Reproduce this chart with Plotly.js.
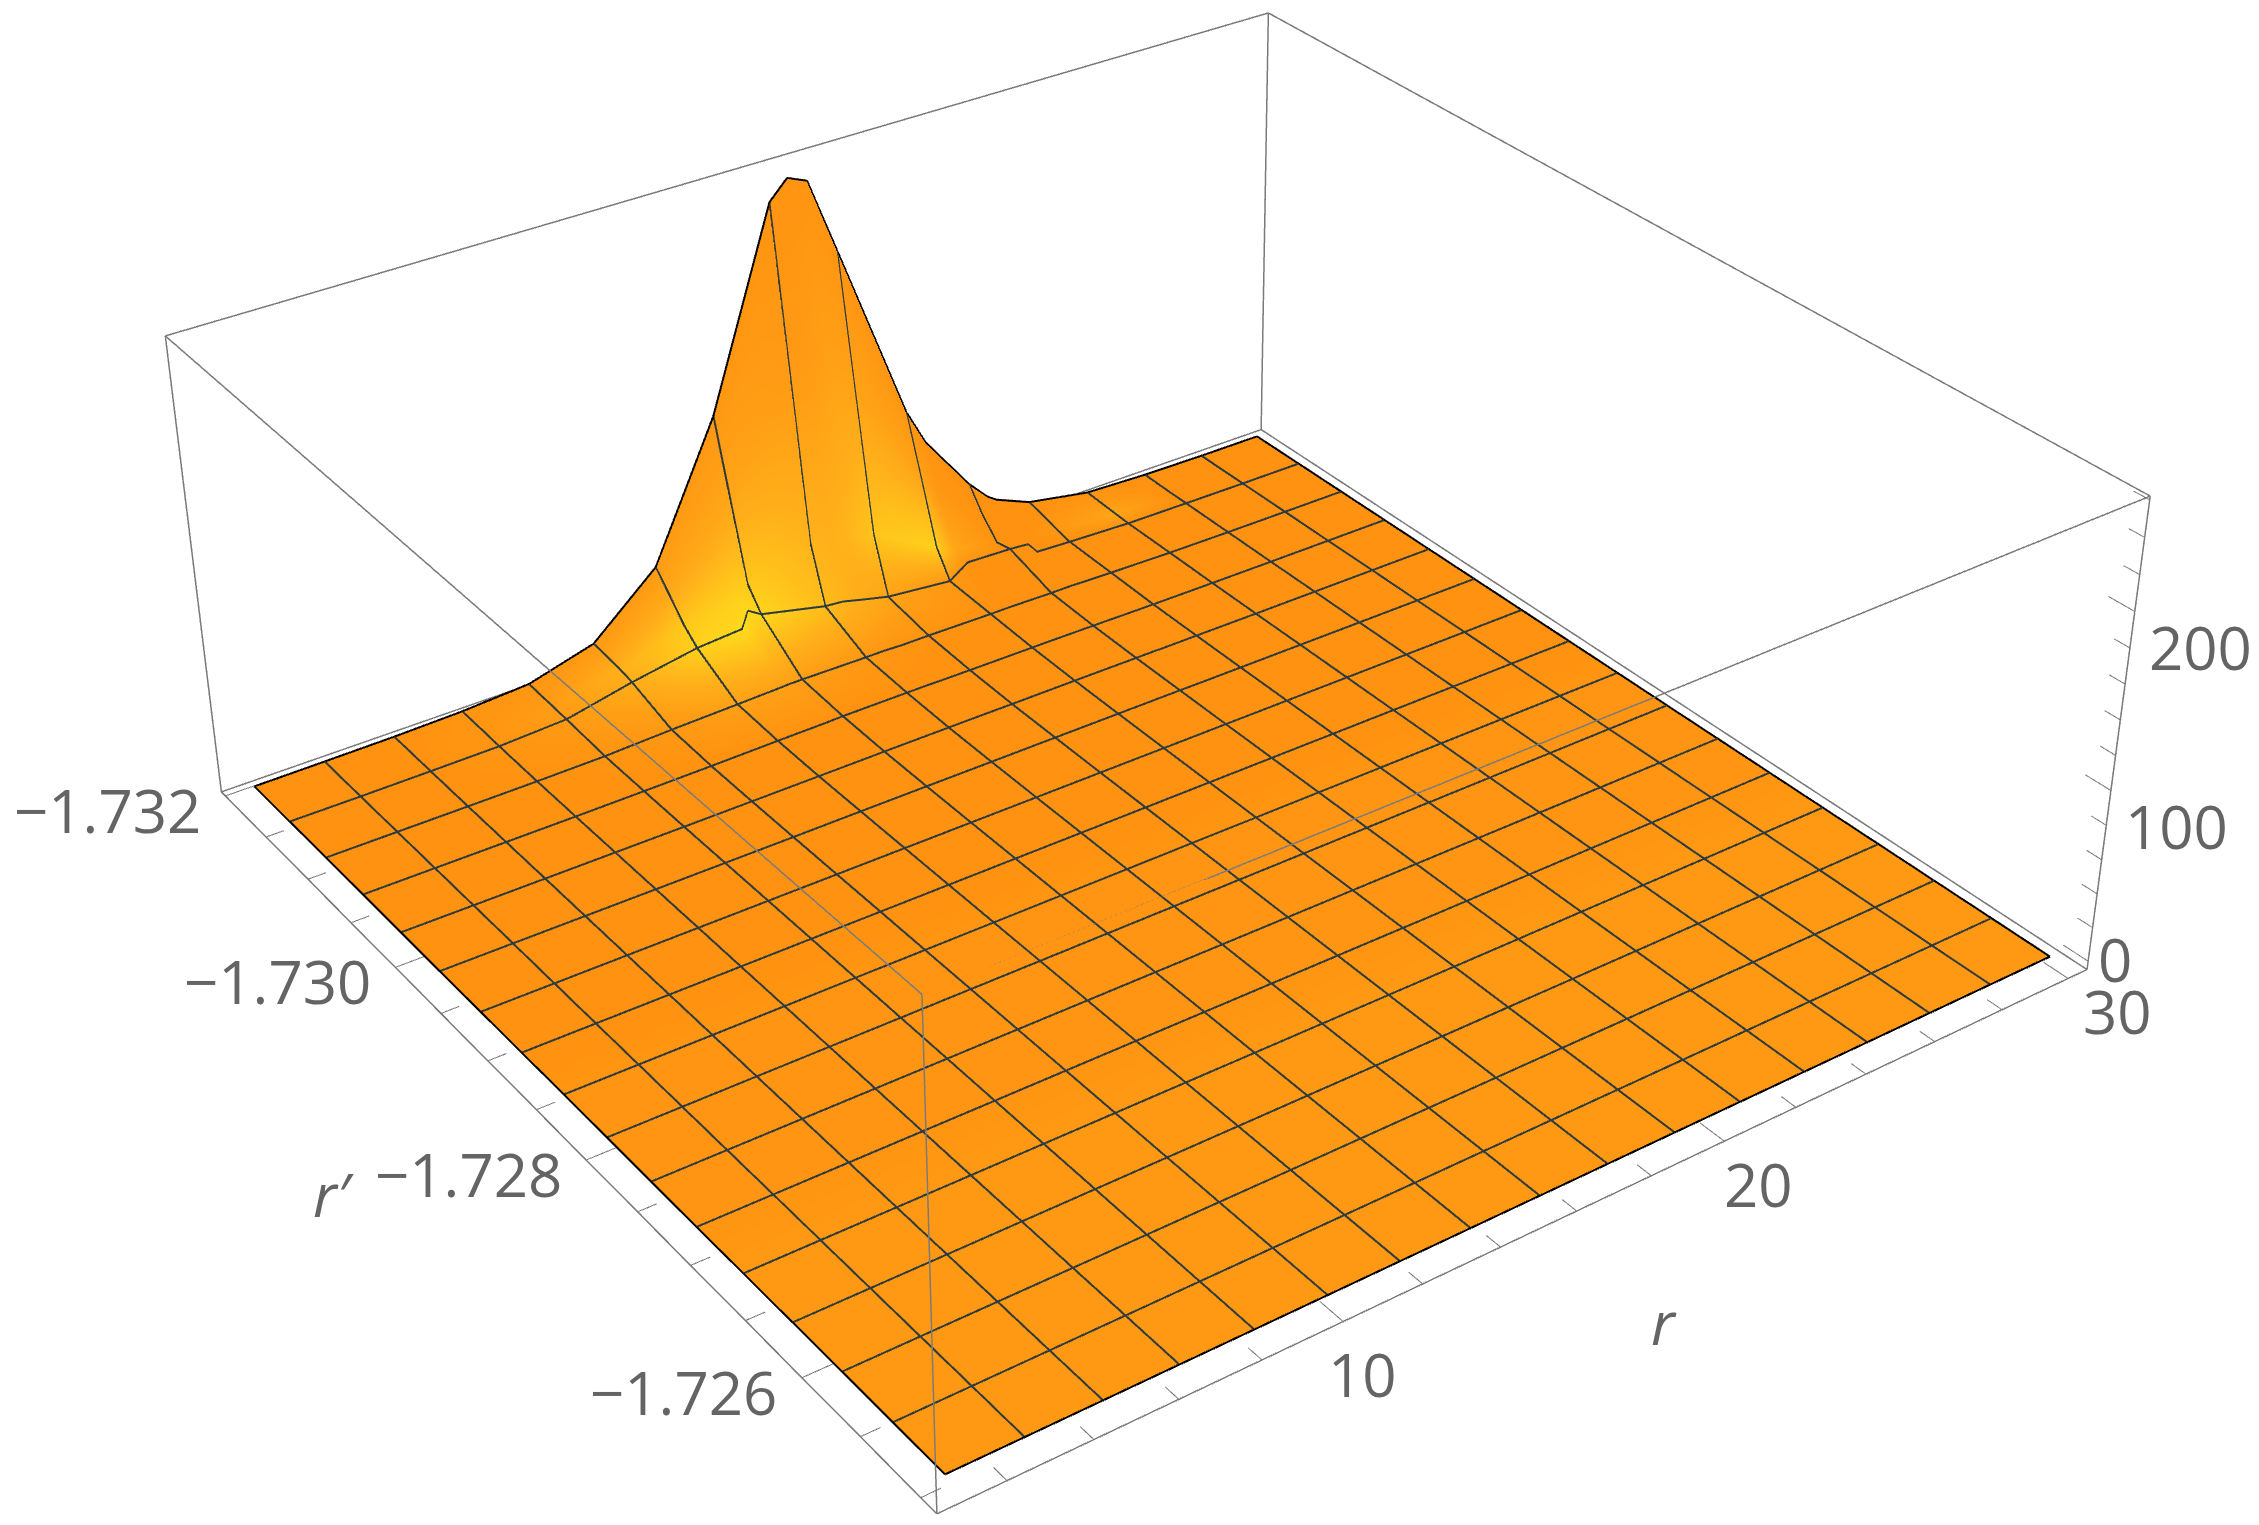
<!DOCTYPE html>
<html><head><meta charset="utf-8">
<script src="https://cdn.plot.ly/plotly-3.0.1.min.js"></script>
<style>html,body{margin:0;padding:0;background:#fff;width:2259px;height:1525px;overflow:hidden}
#wrap{position:absolute;left:0;top:0;width:2259px;height:1525px;overflow:hidden}
#g{position:absolute;left:-1697px;top:-1253px;width:5648px;height:3812px}</style>
</head><body><div id="wrap"><div id="g"></div></div>
<script>
const rValues=[1,2.81,4.63,6.44,8.25,10.06,11.88,13.15,13.33,13.69,15.5,16.01,16.55,17.31,19.13,19.67,20.94,21.48,21.75,22.75,24.56,26.38,28.19,30];
const rPrimeValues=[-1.73191,-1.73177,-1.73162,-1.73148,-1.73105,-1.73062,-1.73019,-1.72976,-1.72932,-1.72889,-1.72846,-1.72803,-1.7276,-1.72717,-1.72674,-1.7263,-1.72587,-1.72544,-1.72501];
const zRow0=[0,0.2,0.5,1.5,4,15,49,105,113,129,244,255,250,204,93,70,34,22,18,9,2,0.5,0,0];
const zRow1=[0,0.1,0.4,1.2,3.5,14,38,70,75,85,150,158,152,125,58,42,20,15,12,7,1.5,0.3,0,0];
const zRow2=[0,0.1,0.3,1,3,13,26,33,35,38,50,52,48,42,20,15,9,8,7,4,1,0.2,0,0];
const zRow3=[0,0,0.2,0.6,2.5,11,18,20,30,25,16,15,12,8,4,12,11,10,3,2,0.5,0.2,0,0];
const zRow4=[0,0,0,0.1,0.5,2,3,3.8,4,4,3.5,3.5,3,3,2.5,2.5,2,2,1.8,1.2,0.4,0.1,0,0];
const zRow5=[0,0,0,0,0.2,0.5,1,1.2,1.3,1.5,1.5,1.5,1.3,1.2,1,1,0.7,0.6,0.5,0.3,0.1,0,0,0];
const zRow6=[0,0,0,0,0,0.1,0.2,0.3,0.3,0.4,0.4,0.4,0.4,0.3,0.3,0.3,0.2,0.2,0.1,0.1,0,0,0,0];
const zRow7=[0,0,0,0,0,0,0.1,0.1,0.1,0.1,0.1,0.1,0.1,0.1,0.1,0.1,0.1,0,0,0,0,0,0,0];
const zFlat=[0,0,0,0,0,0,0,0,0,0,0,0,0,0,0,0,0,0,0,0,0,0,0,0];
const gRow0=[0,0,.02,.05,.08,.12,.15,.12,.12,.1,.05,.04,.04,.05,.05,.03,.01,0,0,0,.02,0,0,0];
const gRow1=[0,0,.02,.06,.12,.28,.4,.35,.35,.35,.15,.15,.25,.3,.3,.12,.02,0,0,.02,.15,0,0,0];
const gRow2=[0,0,.02,.08,.2,.5,.8,.85,.85,.8,.55,.5,.55,.75,.9,.35,.02,0,0,.1,.35,0,0,0];
const gRow3=[0,0,.02,.06,.15,.45,.9,1,1,.95,.65,.55,.45,.3,.12,.03,0,0,0,0,0,0,0,0];
const gRow4=[0,0,0,.02,.05,.12,.25,.25,.25,.2,.12,.08,.05,.03,0,0,0,0,0,0,0,0,0,0];
const gFlat=[0,0,0,0,0,0,0,0,0,0,0,0,0,0,0,0,0,0,0,0,0,0,0,0];
const gMid=[.06,.06,.06,.06,.06,.06,.06,.06,.06,.06,.06,.06,.06,.06,.06,.06,.06,.06,.06,.06,.06,.06,.06,.06];
const gFront=[.13,.13,.13,.13,.13,.13,.13,.13,.13,.13,.13,.13,.13,.13,.13,.13,.13,.13,.13,.13,.13,.13,.13,.13];
const meshCols=[1,2,3,4,5,6,9,10,13,14,16,19,20,21,22];
const meshRows=[3,4,5,6,7,8,9,10,11,12,13,14,15,16,17];
const zTickVals=[0,20,40,60,80,100,120,140,160,180,200,220,240,260];
const rTickVals=[2,4,6,8,10,12,14,16,18,20,22,24,26,28,30];
const rPrimeTickVals=[-1.732,-1.7315,-1.731,-1.7305,-1.73,-1.7295,-1.729,-1.7285,-1.728,-1.7275,-1.727,-1.7265,-1.726,-1.7255,-1.725];
const zLabels=[0,100,200], rLabels=[10,20,30], rPrimeLabels=[-1.732,-1.73,-1.728,-1.726];
const rBox=[0.42,30.58], rPrimeBox=[-1.72487,-1.73205], zBox=[-5,262];
const pad=(b)=>{const d=(b[1]-b[0])*0.005;return [b[0]-d,b[1]+d];};

const zMatrix=rPrimeValues.map((_,i)=>[zRow0,zRow1,zRow2,zRow3,zRow4,zRow5,zRow6,zRow7][i]||zFlat);
const gMatrix=rPrimeValues.map((_,i)=>[gRow0,gRow1,gRow2,gRow3,gRow4][i]||(i<10?gFlat:i<14?gMid:gFront));
const nRow=rPrimeValues.length, nCol=rValues.length;
const font={family:'"Open Sans",sans-serif',size:60,color:'#646464'};
const line3=(x,y,z,color,width)=>({type:'scatter3d',mode:'lines',x,y,z,line:{color,width},hoverinfo:'skip',showlegend:false});
const lift=0.5;
const rowLine=(i,c,w)=>line3(rValues,rValues.map(()=>rPrimeValues[i]),zMatrix[i].map(v=>v+lift),c,w);
const colLine=(j,c,w)=>line3(rPrimeValues.map(()=>rValues[j]),rPrimeValues,zMatrix.map(r=>r[j]+lift),c,w);
const [x0,x1]=rBox,[yF,yB]=rPrimeBox,[z0,z1]=zBox;
const boxCol='#7a7a7a';
const edgeT=(a,b)=>line3([a[0],b[0]],[a[1],b[1]],[a[2],b[2]],boxCol,3);
const boxEdges=[];
[z0,z1].forEach(z=>{
 boxEdges.push(edgeT([x0,yF,z],[x1,yF,z]),edgeT([x0,yB,z],[x1,yB,z]),edgeT([x0,yF,z],[x0,yB,z]),edgeT([x1,yF,z],[x1,yB,z]));});
[[x0,yF],[x1,yF],[x0,yB],[x1,yB]].forEach(c=>boxEdges.push(edgeT([c[0],c[1],z0],[c[0],c[1],z1])));
const dY=yF-yB,dX=x1-x0;
const tl=m=>m?0.025:0.015;
const tickPath=(vals,base,out)=>{const X=[],Y=[],Z=[];vals.forEach(v=>{const a=base(v),b=out(v);[a,b,a].forEach(p=>{X.push(p[0]);Y.push(p[1]);Z.push(p[2]);});});return line3(X,Y,Z,boxCol,2);};
const tickTraces=[
 tickPath(rTickVals,v=>[v,yF,z0],v=>[v,yF-dY*tl(rLabels.includes(v)),z0]),
 tickPath(rPrimeTickVals,v=>[x0,v,z0],v=>[x0+dX*tl(rPrimeLabels.includes(v)),v,z0]),
 tickPath(zTickVals,v=>[x1,yF,v],v=>[x1,yF-dY*tl(zLabels.includes(v)),v])
];
const traces=[
 {type:'surface',x:rValues,y:rPrimeValues,z:zMatrix,surfacecolor:gMatrix,cmin:0,cmax:1,showscale:false,
  colorscale:[[0,'#FF9210'],[0.15,'#FF9A14'],[0.5,'#FFB01A'],[1,'#FFD91C']],
  lighting:{ambient:1,diffuse:0,specular:0,roughness:1,fresnel:0},
  contours:{x:{highlight:false},y:{highlight:false},z:{highlight:false}},hoverinfo:'skip'},
 ...meshRows.map(i=>rowLine(i,'#2f3a3c',4)),
 ...meshCols.map(j=>colLine(j,'#2f3a3c',4)),
 rowLine(0,'#000',4),rowLine(nRow-1,'#000',4),colLine(0,'#000',4),colLine(nCol-1,'#000',4),
 ...boxEdges,...tickTraces
];
const ax=(range,tickvals)=>({range,tickmode:'array',tickvals,showticklabels:false,ticks:'',
 showgrid:false,zeroline:false,showbackground:false,showspikes:false,showline:false,title:{text:''}});
const ann=(x,y,z,text,xs,ys,xa)=>({x,y,z,text,showarrow:false,xshift:xs,yshift:ys,font,xanchor:xa||'center',yanchor:'middle'});
const minus=v=>'\u2212'+Math.abs(v).toFixed(3);
const annotations=[
 ...rPrimeLabels.map(v=>ann(x0,v,z0,minus(v),-118,-14)),
 ...rLabels.map((v,i)=>ann(v,yF,z0,String(v),[19,34,49][i],[-52,-43,-33][i])),
 ...zLabels.map((v,i)=>ann(x1,yF,v,String(v),i?12:8,i?-35:2,'left')),
 ann(x0,-1.728,z0,'<i>r\u2032</i>',-252,-34),
 ann(15,yF,z0,'<i>r</i>',125,-93)
];
Plotly.newPlot('g',traces,{width:5648,height:3812,margin:{l:0,r:0,t:0,b:0},paper_bgcolor:'#fff',showlegend:false,
 scene:{domain:{x:[0,1],y:[0,1]},aspectmode:'manual',aspectratio:{x:1.01,y:1.01,z:0.399},
  camera:{eye:{x:-1.65,y:-2.32,z:1.745},center:{x:0,y:0,z:0},up:{x:0,y:0,z:1}},
  xaxis:ax(pad(rBox),rTickVals),yaxis:ax(pad(rPrimeBox),rPrimeTickVals),zaxis:ax(pad(zBox),zTickVals),annotations}
},{plotGlPixelRatio:1,displayModeBar:false});
</script></body></html>
